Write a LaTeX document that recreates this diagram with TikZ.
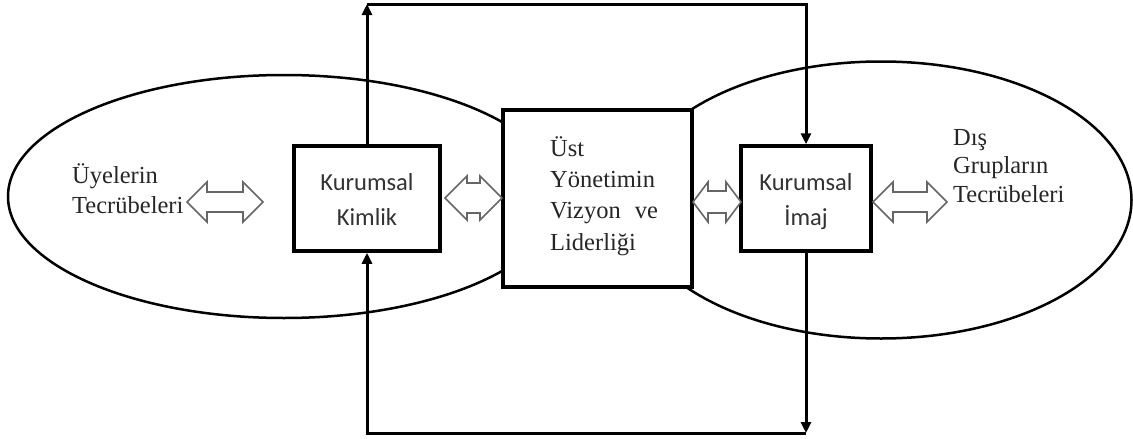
\documentclass[tikz,border=0pt]{standalone}
\usepackage{fontspec}
\setmainfont{Liberation Serif}
\newfontfamily\carlitofont{Carlito}
\usetikzlibrary{arrows.meta,calc}
\newcommand{\hollowarrow}[5]{%
  \draw[dbl] let \p1=(#1), \p2=(#2) in
    (\x1,\y1) -- (\x1+#3,\y1+#4) -- (\x1+#3,\y1+#5) -- (\x2-#3,\y1+#5) -- (\x2-#3,\y1+#4)
    -- (\x2,\y1) -- (\x2-#3,\y1-#4) -- (\x2-#3,\y1-#5) -- (\x1+#3,\y1-#5) -- (\x1+#3,\y1-#4) -- cycle;}
\begin{document}
\begin{tikzpicture}[x=1pt,y=-1pt,
  box/.style={draw,line width=3.5pt,fill=white,inner sep=0pt},
  oval/.style={draw,line width=2.5pt},
  conn/.style={line width=3pt,line join=miter},
  tip/.style={-{Triangle[length=11pt,width=10pt]}},
  dbl/.style={draw=black!60,line width=1.6pt,fill=white,line join=miter},
  serif/.style={font=\fontsize{24.5pt}{30pt}\selectfont,align=left,inner sep=0pt,text=black!85},
  sans/.style={font=\carlitofont\fontsize{24.5pt}{35pt}\selectfont,align=center,inner sep=0pt,text=black!80}]
\useasboundingbox (0,0) rectangle (1133,439);
% ovals
\draw[oval] (284,196.5) ellipse [x radius=276pt, y radius=121.5pt];
\draw[oval] (881,200) ellipse [x radius=250.5pt, y radius=138.5pt];
% boxes
\node[box,minimum width=146pt,minimum height=105pt] (kimlik) at (367,198.5) {};
\node[box,minimum width=189pt,minimum height=177pt] (vizyon) at (597.5,198.5) {};
\node[box,minimum width=130pt,minimum height=105pt] (imaj) at (806,198.5) {};
% texts
\node[sans,anchor=base] (kimliktext) at (367,225) {Kurumsal\\Kimlik};
\node[sans,anchor=base] (imajtext) at (806,225) {Kurumsal\\İmaj};
\node[serif,anchor=base west] (uye) at (72,213) {Üyelerin\\Tecrübeleri};
\node[serif,anchor=base west,font=\fontsize{24.5pt}{31.3pt}\selectfont] (vtext) at (550,250) {Üst\\Yönetimin\\Vizyon\hspace{14pt}ve\\Liderliği};
\node[serif,anchor=base west,font=\fontsize{24.5pt}{28.5pt}\selectfont] (dis) at (953,202) {Dış\\Grupların\\Tecrübeleri};
% hollow double arrows
\coordinate (a1) at (187,202); \coordinate (a2) at (263,202);
\coordinate (b1) at (445,198); \coordinate (b2) at (502,198);
\coordinate (c1) at (693,202); \coordinate (c2) at (741,202);
\coordinate (d1) at (873,202); \coordinate (d2) at (947,202);
\hollowarrow{a1}{a2}{20pt}{20pt}{10pt}
\hollowarrow{b1}{b2}{22pt}{22pt}{15pt}
\hollowarrow{c1}{c2}{15pt}{20pt}{11pt}
\hollowarrow{d1}{d2}{20pt}{20pt}{10pt}
% connectors
\coordinate (tl) at (kimlik.north |- 0,4);
\coordinate (tr) at (imaj.north |- 0,4);
\coordinate (bl) at (kimlik.south |- 0,433);
\coordinate (br) at (imaj.south |- 0,433);
\draw[conn,tip] (kimlik.north) -- (tl);
\draw[conn,tip] (tl) -- (tr) -- (imaj.north);
\draw[conn,tip] (imaj.south) -- (br);
\draw[conn,tip] (br) -- (bl) -- (kimlik.south);
\end{tikzpicture}
\end{document}
